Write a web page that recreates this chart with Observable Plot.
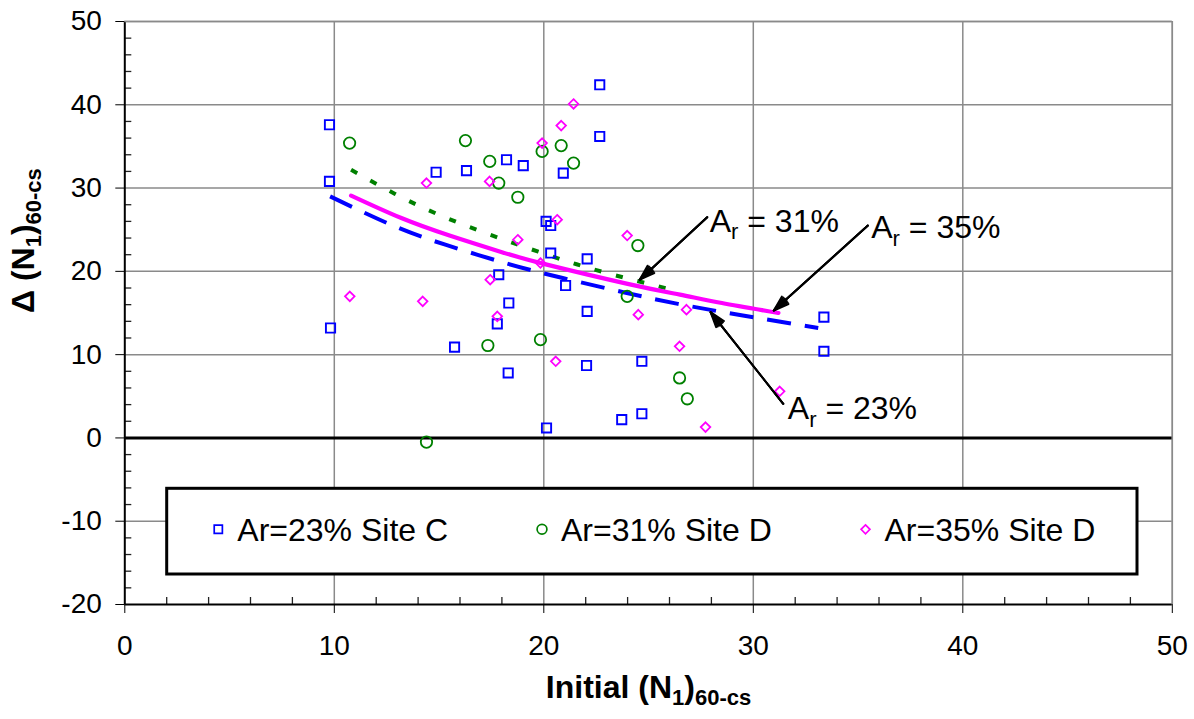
<!DOCTYPE html>
<html>
<head>
<meta charset="utf-8">
<script src="https://cdn.jsdelivr.net/npm/d3@7"></script>
<script src="https://cdn.jsdelivr.net/npm/@observablehq/plot@0.6"></script>
<style>
  html, body { margin: 0; padding: 0; background: #fff; }
  #chart svg { display: block; }
</style>
</head>
<body>
<div id="chart"></div>
<script>
// ---------- data ----------
const siteC23_x = [9.77, 9.77, 9.82, 14.86, 16.31, 15.74, 17.85, 17.78, 18.22, 19.02, 18.33, 18.30, 20.11, 20.33, 20.33, 20.13, 20.93, 21.04, 22.07, 22.07, 22.04, 22.67, 22.67, 23.72, 24.68, 24.68, 33.37, 33.37];
const siteC23_y = [37.6, 30.8, 13.2, 31.9, 32.1, 10.9, 19.6, 13.7, 33.4, 32.7, 16.2, 7.8, 26.0, 25.5, 22.2, 1.2, 31.8, 18.3, 21.5, 15.2, 8.7, 42.4, 36.2, 2.2, 2.9, 9.2, 14.5, 10.4];

const siteD31_x = [10.73, 16.26, 17.42, 17.85, 18.76, 19.92, 20.83, 21.42, 24.49, 17.33, 14.40, 19.84, 23.98, 26.48, 26.85];
const siteD31_y = [35.4, 35.7, 33.2, 30.6, 28.9, 34.4, 35.1, 33.0, 23.1, 11.1, -0.5, 11.8, 17.0, 7.2, 4.7];

const siteD35_x = [14.40, 17.41, 10.74, 14.22, 17.44, 17.78, 21.42, 20.83, 19.92, 20.64, 18.76, 23.98, 19.84, 20.57, 24.51, 26.81, 26.48, 31.26, 27.72];
const siteD35_y = [30.6, 30.8, 17.0, 16.4, 19.0, 14.6, 40.1, 37.5, 35.4, 26.2, 23.8, 24.3, 21.0, 9.2, 14.8, 15.4, 11.0, 5.6, 1.3];

// trend curves
const fit23_x = [9.8, 12.8, 15.3, 18.3, 20.9, 23.8, 26.4, 29.5, 33.1];
const fit23_y = [29.0, 25.5, 23.2, 20.9, 19.2, 17.5, 16.1, 14.7, 13.2];
const fit31_x = [10.8, 12.9, 14.9, 17.0, 19.0, 21.0, 23.0, 25.0, 26.1];
const fit31_y = [32.2, 29.3, 26.9, 24.8, 23.0, 21.3, 19.8, 18.5, 17.8];
const fit35_x = [10.8, 13.2, 15.5, 18.0, 20.0, 24.0, 26.5, 28.5, 31.2];
const fit35_y = [29.1, 26.4, 24.3, 22.3, 20.9, 18.5, 17.2, 16.2, 15.0];

// annotations
const annLabels = ["A_{r} = 31%", "A_{r} = 35%", "A_{r} = 23%"];
const annTextX = [27.92, 35.63, 31.65];
const annTextY = [26.0, 25.2, 3.5];
const annArrowX1 = [27.8, 35.47, 31.43];
const annArrowY1 = [26.5, 25.5, 4.1];
const annArrowX2 = [24.58, 30.98, 27.96];
const annArrowY2 = [19.0, 15.3, 15.1];

// axes
const xTicks = [0, 10, 20, 30, 40, 50];
const yTicks = [-20, -10, 0, 10, 20, 30, 40, 50];
const xMinor = [2, 4, 6, 8, 12, 14, 16, 18, 22, 24, 26, 28, 32, 34, 36, 38, 42, 44, 46, 48];
const yMinor = [-18, -16, -14, -12, -8, -6, -4, -2, 2, 4, 6, 8, 12, 14, 16, 18, 22, 24, 26, 28, 32, 34, 36, 38, 42, 44, 46, 48];
const xTitle = "Initial (N_{1})_{60-cs}";
const yTitle = "Δ (N_{1})_{60-cs}";

const seriesNames = ["Ar=23% Site C", "Ar=31% Site D", "Ar=35% Site D"];
const seriesColors = ["#0000FF", "#008000", "#FF00FF"];

// ---------- build tables ----------
const zip = (xs, ys) => xs.map((x, i) => ({x, y: ys[i]}));
const pts23 = zip(siteC23_x, siteC23_y);
const pts31 = zip(siteD31_x, siteD31_y);
const pts35 = zip(siteD35_x, siteD35_y);
const line23 = zip(fit23_x, fit23_y);
const line31 = zip(fit31_x, fit31_y);
const line35 = zip(fit35_x, fit35_y);
const annText = annLabels.map((t, i) => ({t, x: annTextX[i], y: annTextY[i]}));
const annArrows = annLabels.map((t, i) => ({x1: annArrowX1[i], y1: annArrowY1[i], x2: annArrowX2[i], y2: annArrowY2[i]}));

const W = 1194, H = 719;
const mL = 124.3, mR = 22.2, mT = 21, mB = 115;
const frameW = W - mL - mR, frameH = H - mT - mB;
const FONT = "Liberation Sans, Arial, Helvetica, sans-serif";
const grid = "#8a8a8a";

const plot = Plot.plot({
  width: W,
  height: H,
  marginLeft: mL,
  marginRight: mR,
  marginTop: mT,
  marginBottom: mB,
  style: {fontFamily: FONT, fontSize: "28px", color: "#000", background: "#fff", overflow: "visible"},
  x: {domain: [0, 50], ticks: xTicks, tickSize: 9, tickPadding: 22, tickFormat: d => String(d), label: null},
  y: {domain: [-20, 50], ticks: yTicks, tickSize: 9, tickPadding: 14, tickFormat: d => String(d), label: null},
  marks: [
    // gridlines
    Plot.ruleX(xTicks.filter(d => d > 0), {stroke: grid, strokeWidth: 1.5}),
    Plot.ruleY(yTicks.filter(d => d > -20), {stroke: grid, strokeWidth: 1.5}),
    // minor ticks (inside)
    Plot.ruleX(xMinor, {stroke: "#222", strokeWidth: 1.3, insetTop: frameH - 7}),
    Plot.ruleY(yMinor, {stroke: "#222", strokeWidth: 1.3, insetRight: frameW - 7}),
    // zero line
    Plot.ruleY([0], {stroke: "#000", strokeWidth: 3}),
    // trend curves
    Plot.line(line23, {x: "x", y: "y", stroke: seriesColors[0], strokeWidth: 4, strokeDasharray: "24,14", curve: "natural", strokeLinecap: "butt"}),
    Plot.line(line31, {x: "x", y: "y", stroke: seriesColors[1], strokeWidth: 4, strokeDasharray: "7,15", curve: "natural", strokeLinecap: "butt"}),
    Plot.line(line35, {x: "x", y: "y", stroke: seriesColors[2], strokeWidth: 4.2, curve: "natural"}),
    // data points
    Plot.dot(pts23, {x: "x", y: "y", symbol: "square", r: 5.2, stroke: seriesColors[0], strokeWidth: 1.9, fill: "none"}),
    Plot.dot(pts31, {x: "x", y: "y", symbol: "circle", r: 5.7, stroke: seriesColors[1], strokeWidth: 1.8, fill: "none"}),
    Plot.dot(pts35, {x: "x", y: "y", symbol: "diamond2", r: 4.3, stroke: seriesColors[2], strokeWidth: 1.8, fill: "none"}),
    // annotation arrows (layered heads to look filled)
    Plot.arrow(annArrows, {x1: "x1", y1: "y1", x2: "x2", y2: "y2", stroke: "#000", strokeWidth: 2, headLength: 12, headAngle: 36}),
    Plot.arrow(annArrows, {x1: "x1", y1: "y1", x2: "x2", y2: "y2", stroke: "#000", strokeWidth: 2, headLength: 12, headAngle: 24}),
    Plot.arrow(annArrows, {x1: "x1", y1: "y1", x2: "x2", y2: "y2", stroke: "#000", strokeWidth: 2, headLength: 12, headAngle: 12}),
    Plot.text(annText, {x: "x", y: "y", text: "t", textAnchor: "start", fontSize: 32, fill: "#000"}),
    // axis lines and frame
    Plot.ruleX([0], {stroke: "#000", strokeWidth: 2}),
    Plot.ruleY([-20], {stroke: "#000", strokeWidth: 2}),
    Plot.ruleX([50], {stroke: grid, strokeWidth: 1.5}),
    Plot.ruleY([50], {stroke: grid, strokeWidth: 1.5}),
    // axis titles
    Plot.text([xTitle], {text: d => d, frameAnchor: "bottom", dy: 93, fontSize: 32, fontWeight: "bold", fill: "#000"}),
    Plot.text([yTitle], {text: d => d, frameAnchor: "left", dx: -101.5, rotate: -90, fontSize: 32, fontWeight: "bold", fill: "#000"})
  ]
});

// subscript rendering: "_{..}" parts become lowered, smaller tspans
function applySub(el, subSize, shift) {
  const s = el.textContent;
  const parts = s.split(/_\{([^}]*)\}/);
  while (el.firstChild) el.removeChild(el.firstChild);
  let cur = 0;
  parts.forEach((p, i) => {
    if (!p) return;
    const t = document.createElementNS("http://www.w3.org/2000/svg", "tspan");
    const isSub = i % 2 === 1;
    const target = isSub ? shift : 0;
    if (target !== cur) t.setAttribute("dy", target - cur);
    cur = target;
    if (isSub) t.setAttribute("font-size", subSize);
    t.textContent = p;
    el.appendChild(t);
  });
}
d3.select(plot).selectAll("text").each(function() {
  if (this.textContent.includes("_{")) applySub(this, 22, 7.5);
});

// legend box
const svg = d3.select(plot);
const lg = svg.append("g").attr("font-family", FONT).attr("font-size", 32).attr("text-anchor", "start");
lg.append("rect").attr("x", 166.7).attr("y", 488.3).attr("width", 970.3).attr("height", 85.7)
  .attr("fill", "#fff").attr("stroke", "#000").attr("stroke-width", 3);
const legendItemX = [218.3, 542, 865.5];
const legendSymbols = [d3.symbolSquare, d3.symbolCircle, d3.symbolDiamond2];
const legendR = [4.6, 4.9, 4.0];
seriesNames.forEach((name, i) => {
  lg.append("path")
    .attr("d", d3.symbol(legendSymbols[i], Math.PI * legendR[i] * legendR[i])())
    .attr("transform", `translate(${legendItemX[i]},529.3)`)
    .attr("fill", "none").attr("stroke", seriesColors[i]).attr("stroke-width", 1.7);
  lg.append("text").attr("x", legendItemX[i] + 19).attr("y", 540.5).attr("fill", "#000")
    .attr("text-anchor", "start").text(name);
});

document.getElementById("chart").appendChild(plot);
</script>
</body>
</html>
